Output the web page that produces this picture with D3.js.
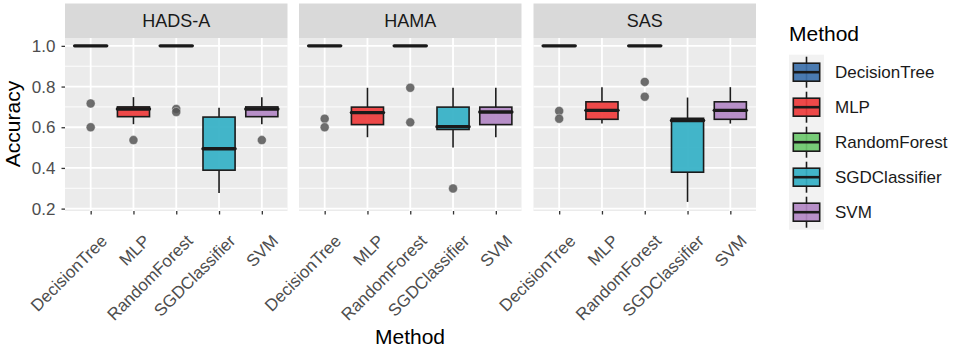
<!DOCTYPE html>
<html><head><meta charset="utf-8">
<script src="https://cdn.jsdelivr.net/npm/d3@7"></script>
<style>body{margin:0;background:#fff}svg{display:block}text{font-family:Arial,"Liberation Sans",sans-serif}</style>
</head><body><svg id="c" width="957" height="347"></svg>
<script>
const panels = ["HADS-A", "HAMA", "SAS"];
const methods = ["DecisionTree", "MLP", "RandomForest", "SGDClassifier", "SVM"];
const colors = ["#3C70AA", "#EE3B3B", "#6CC86C", "#33B0C6", "#B287C4"];
const yTicks = [0.2, 0.4, 0.6, 0.8, 1.0];
const yMinor = [0.3, 0.5, 0.7, 0.9];
// per panel, per method
const whiskerLow = [[1, 0.615, 1, 0.277, 0.615], [1, 0.551, 1, 0.501, 0.551], [1, 0.618, 1, 0.233, 0.618]];
const q1 = [[1, 0.652, 1, 0.389, 0.652], [1, 0.613, 1, 0.589, 0.613], [1, 0.639, 1, 0.379, 0.639]];
const median = [[1, 0.69, 1, 0.494, 0.69], [1, 0.672, 1, 0.603, 0.675], [1, 0.683, 1, 0.633, 0.683]];
const q3 = [[1, 0.70, 1, 0.650, 0.70], [1, 0.699, 1, 0.699, 0.699], [1, 0.725, 1, 0.644, 0.725]];
const whiskerHigh = [[1, 0.748, 1, 0.696, 0.748], [1, 0.794, 1, 0.794, 0.794], [1, 0.797, 1, 0.746, 0.797]];
const outliers = [
  [[0.717, 0.60], [0.537], [0.69, 0.675], [], [0.537]],
  [[0.642, 0.60], [], [0.794, 0.624], [0.299], []],
  [[0.68, 0.642], [], [0.823, 0.75], [], []]
];

const svg = d3.select("#c");
const panelLeft = [65, 299, 533.5];
const panelW = 222.5;
const pTop = 38, pBottom = 211;
const y = d3.scaleLinear().domain([0.1883, 1.0387]).range([pBottom, pTop]);
const tickGrey = "#4D4D4D";
const fTick = 17, fTitle = 21;

panels.forEach((p, pi) => {
  const x0 = panelLeft[pi];
  const x = d3.scalePoint().domain(methods).range([x0, x0 + panelW]).padding(0.6);
  const step = x.step();
  const bw = step * 0.75;
  const g = svg.append("g");
  g.append("rect").attr("x", x0).attr("y", 3.5).attr("width", panelW).attr("height", pTop - 3.5).attr("fill", "#D9D9D9");
  g.append("text").attr("x", x0 + panelW / 2).attr("y", 21).attr("dy", "0.36em").attr("text-anchor", "middle")
    .attr("font-size", 18).attr("fill", "#1A1A1A").text(p);
  g.append("rect").attr("x", x0).attr("y", pTop).attr("width", panelW).attr("height", pBottom - pTop).attr("fill", "#EBEBEB");
  yMinor.forEach(v => g.append("line").attr("x1", x0).attr("x2", x0 + panelW).attr("y1", y(v)).attr("y2", y(v)).attr("stroke", "#fff").attr("stroke-width", 0.9));
  yTicks.forEach(v => g.append("line").attr("x1", x0).attr("x2", x0 + panelW).attr("y1", y(v)).attr("y2", y(v)).attr("stroke", "#fff").attr("stroke-width", 1.8));
  methods.forEach(m => g.append("line").attr("x1", x(m)).attr("x2", x(m)).attr("y1", pTop).attr("y2", pBottom).attr("stroke", "#fff").attr("stroke-width", 1.8));
  const xAxis = d3.axisBottom(x).tickSize(3.5).tickPadding(3);
  const ax = svg.append("g").attr("transform", `translate(0,${pBottom})`).call(xAxis);
  ax.select(".domain").remove();
  ax.selectAll(".tick line").attr("stroke", "#333").attr("stroke-width", 1.3);
  ax.selectAll(".tick text").attr("font-size", fTick).attr("fill", tickGrey)
    .attr("text-anchor", "end").attr("dy", "0")
    .attr("transform", "translate(17,31) rotate(-45)").attr("y", 0).attr("x", 0);
  methods.forEach((m, mi) => {
    const cx = x(m);
    const bg = g.append("g");
    bg.append("line").attr("x1", cx).attr("x2", cx).attr("y1", y(whiskerHigh[pi][mi])).attr("y2", y(q3[pi][mi])).attr("stroke", "#1A1A1A").attr("stroke-width", 1.6);
    bg.append("line").attr("x1", cx).attr("x2", cx).attr("y1", y(q1[pi][mi])).attr("y2", y(whiskerLow[pi][mi])).attr("stroke", "#1A1A1A").attr("stroke-width", 1.6);
    bg.append("rect").attr("x", cx - bw / 2).attr("y", y(q3[pi][mi])).attr("width", bw)
      .attr("height", Math.max(0, y(q1[pi][mi]) - y(q3[pi][mi])))
      .attr("fill", colors[mi]).attr("fill-opacity", 0.92).attr("stroke", "#1A1A1A").attr("stroke-width", 1.6);
    bg.append("line").attr("x1", cx - bw / 2).attr("x2", cx + bw / 2).attr("y1", y(median[pi][mi])).attr("y2", y(median[pi][mi]))
      .attr("stroke", "#1A1A1A").attr("stroke-width", 3.4).attr("stroke-linecap", "round");
    outliers[pi][mi].forEach(v => bg.append("circle").attr("cx", cx).attr("cy", y(v)).attr("r", 4.5)
      .attr("fill", "#555").attr("fill-opacity", 0.85).attr("stroke", "#fff").attr("stroke-width", 0.6).attr("stroke-opacity", 0.6));
  });
});

const yAxis = d3.axisLeft(y).tickValues(yTicks).tickFormat(d3.format(".1f")).tickSize(3.5).tickPadding(6);
const ay = svg.append("g").attr("transform", `translate(${panelLeft[0]},0)`).call(yAxis);
ay.select(".domain").remove();
ay.selectAll(".tick line").attr("stroke", "#333").attr("stroke-width", 1.3);
ay.selectAll(".tick text").attr("font-size", fTick).attr("fill", tickGrey);

svg.append("text").attr("transform", "translate(19.5,124) rotate(-90)").attr("text-anchor", "middle")
  .attr("font-size", fTitle).attr("fill", "#000").text("Accuracy");
svg.append("text").attr("x", 410).attr("y", 344).attr("text-anchor", "middle")
  .attr("font-size", fTitle).attr("fill", "#000").text("Method");

const lg = svg.append("g");
lg.append("text").attr("x", 789).attr("y", 40.5).attr("font-size", fTitle).attr("fill", "#000").text("Method");
const keyX = 789, keyW = 35, keyTop = 54.7, keyH = 35;
lg.append("rect").attr("x", keyX).attr("y", keyTop).attr("width", keyW).attr("height", keyH * 5).attr("fill", "#F2F2F2");
methods.forEach((m, i) => {
  const ky = keyTop + i * keyH;
  const cx = keyX + keyW / 2, cy = ky + keyH / 2;
  lg.append("line").attr("x1", cx).attr("x2", cx).attr("y1", ky + 2).attr("y2", ky + keyH - 2).attr("stroke", "#1A1A1A").attr("stroke-width", 1.6);
  lg.append("rect").attr("x", keyX + 4.3).attr("y", cy - 9).attr("width", keyW - 8.6).attr("height", 18)
    .attr("fill", colors[i]).attr("fill-opacity", 0.92).attr("stroke", "#1A1A1A").attr("stroke-width", 1.6);
  lg.append("line").attr("x1", keyX + 4.3).attr("x2", keyX + keyW - 4.3).attr("y1", cy).attr("y2", cy).attr("stroke", "#1A1A1A").attr("stroke-width", 2.6);
  lg.append("text").attr("x", 835).attr("y", cy).attr("dy", "0.36em").attr("font-size", fTick).attr("fill", "#1A1A1A").text(m);
});
</script></body></html>
